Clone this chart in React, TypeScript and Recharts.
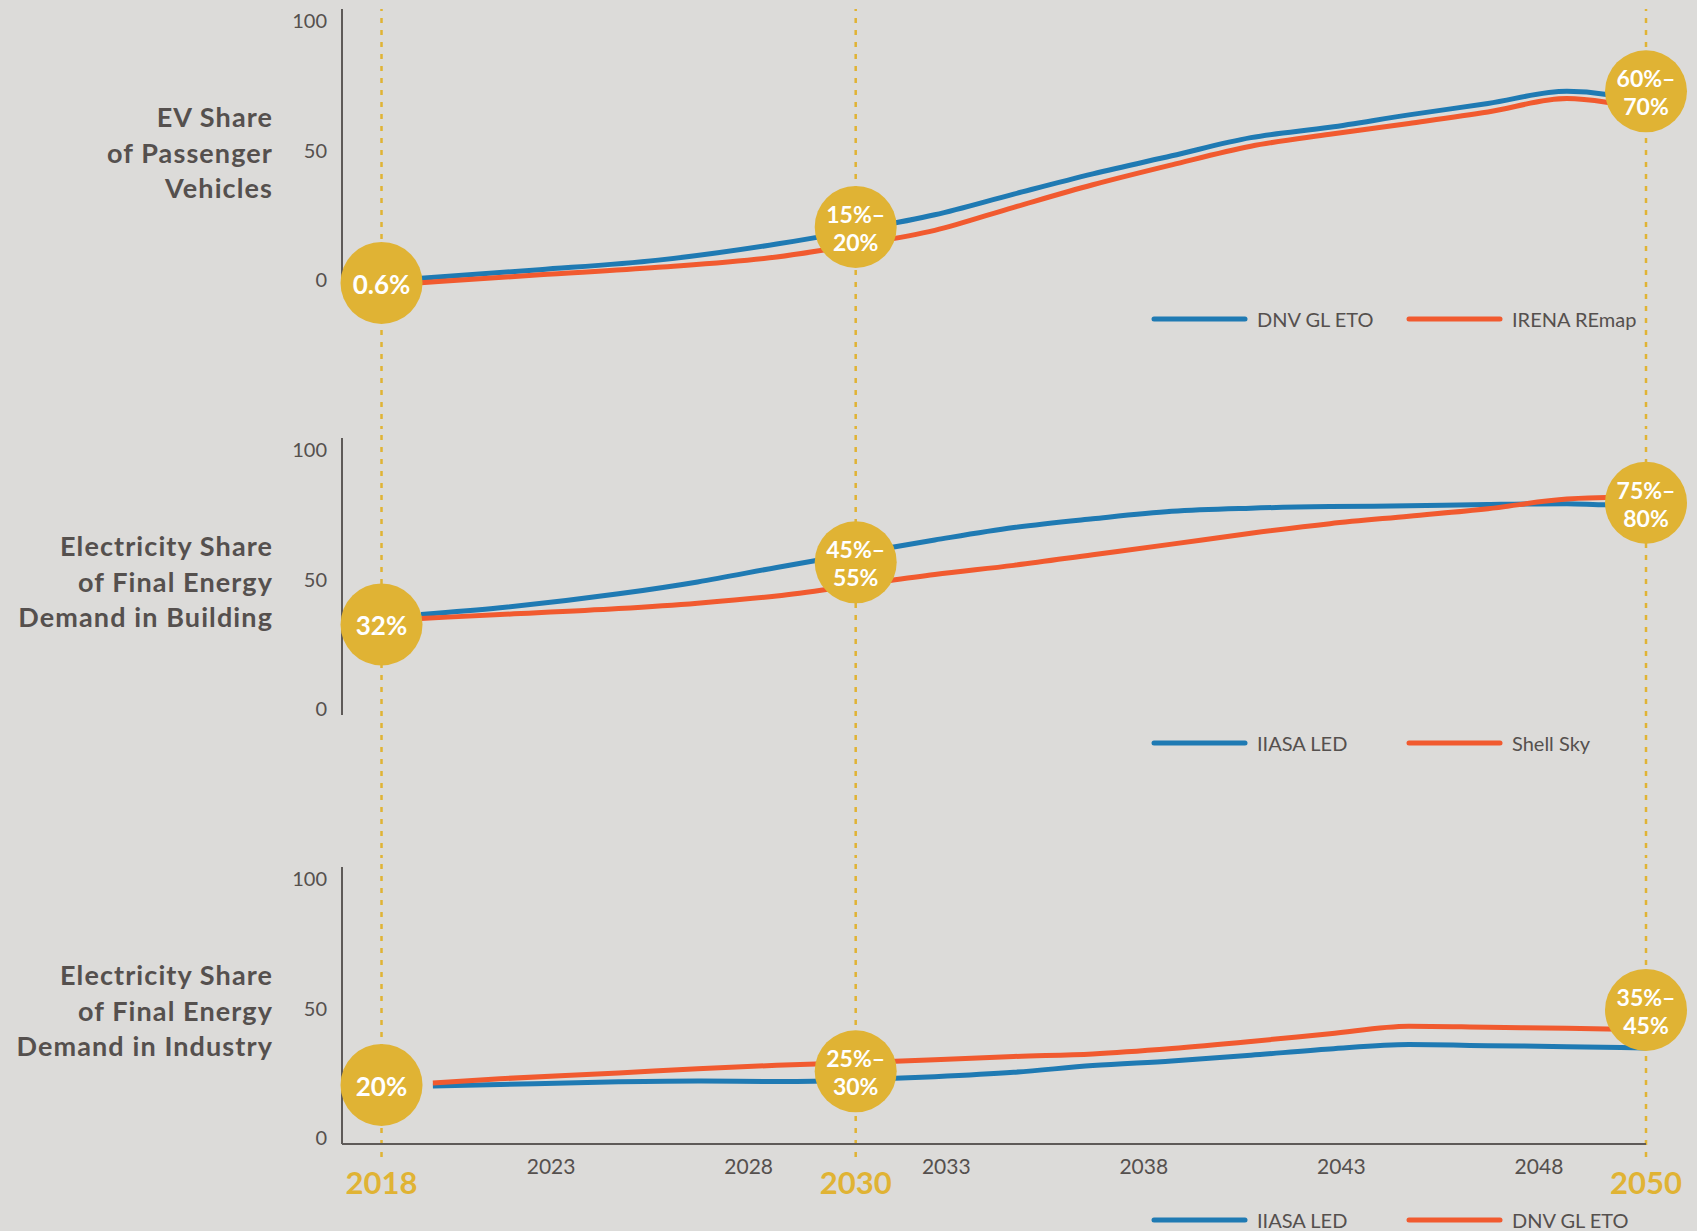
import React from 'react';
import { LineChart, Line, XAxis, YAxis, ReferenceLine, ReferenceDot, Legend } from 'recharts';

const FONT = 'Lato, "Noto Sans", sans-serif';
const BG = '#DCDBD9';
const BLUE = '#1F7AB3';
const ORANGE = '#F15A2F';
const GOLD = '#E0B334';
const INK = '#55504E';
const AXIS = '#5E5A58';

// x axis
const markerYears = [2018, 2030, 2050];
const tickYears = [2023, 2028, 2033, 2038, 2043, 2048];
const yTicks = [0, 50, 100];

// panel 1: EV share of passenger vehicles
const evTitle = ['EV Share', 'of Passenger', 'Vehicles'];
const evYears = [2019, 2022, 2025, 2028, 2030, 2032, 2034, 2036, 2038, 2040, 2042, 2044, 2046, 2048, 2049, 2050];
const evDnv = [3.0, 6.3, 10.0, 16.2, 21.5, 27.5, 35.5, 43.3, 50.3, 57.3, 61.3, 66.1, 70.5, 75.2, 74.0, 70.0];
const evIrena = [1.3, 4.3, 7.2, 11.2, 15.9, 21.5, 30.4, 39.1, 46.8, 54.0, 58.6, 62.8, 67.2, 72.4, 71.0, 68.0];
const evBubbleValues = [1.2, 22.8, 75.2];
const evBubbleText = [['0.6%'], ['15%–', '20%'], ['60%–', '70%']];

// panel 2: electricity share in buildings
const bldTitle = ['Electricity Share', 'of Final Energy', 'Demand in Building'];
const bldYears = [2019, 2021, 2024, 2026, 2028, 2030, 2032, 2034, 2036, 2038, 2040, 2042, 2044, 2046, 2048, 2049, 2050];
const bldIiasa = [38.8, 41.4, 46.8, 51.4, 57.0, 62.4, 67.6, 72.4, 75.8, 78.7, 79.9, 80.5, 80.8, 81.3, 81.6, 81.2, 81.2];
const bldShell = [37.3, 38.8, 41.1, 43.2, 46.0, 50.1, 54.3, 57.8, 61.9, 66.0, 70.2, 73.9, 76.8, 79.7, 83.4, 84.0, 84.0];
const bldBubbleValues = [35.0, 59.0, 82.0];
const bldBubbleText = [['32%'], ['45%–', '55%'], ['75%–', '80%']];

// panel 3: electricity share in industry
const indTitle = ['Electricity Share', 'of Final Energy', 'Demand in Industry'];
const indYears = [2019.3, 2021, 2024, 2026, 2028, 2030, 2032, 2034, 2036, 2038, 2040, 2042, 2044, 2046, 2048, 2050];
const indIiasa = [22.4, 23.0, 24.0, 24.3, 24.1, 24.8, 26.0, 27.7, 30.3, 32.1, 34.3, 36.7, 38.4, 38.0, 37.6, 37.1];
const indDnv = [23.6, 25.2, 27.4, 29.1, 30.4, 31.4, 32.5, 33.8, 34.8, 36.9, 39.6, 42.6, 45.5, 45.1, 44.7, 44.2];
const indBubbleValues = [22.8, 28.1, 51.8];
const indBubbleText = [['20%'], ['25%–', '30%'], ['35%–', '45%']];

const rowsOf = (years: number[], a: number[], b: number[]) =>
  years.map((year, i) => ({ year, a: a[i], b: b[i] }));

function YTick({ x, y, payload }: any) {
  return (
    <text x={x} y={y - 7} textAnchor="end" dominantBaseline="central" fontSize={20} fill={INK} fontFamily={FONT}>
      {payload.value}
    </text>
  );
}

function XTick({ x, y, payload }: any) {
  if (markerYears.includes(payload.value)) {
    return (
      <text x={x} y={y + 38} textAnchor="middle" dominantBaseline="central" fontSize={31} fontWeight={700} fill={GOLD} fontFamily={FONT}>
        {payload.value}
      </text>
    );
  }
  return (
    <text x={x - 28} y={y + 21} textAnchor="middle" dominantBaseline="central" fontSize={21} fill={INK} fontFamily={FONT}>
      {payload.value}
    </text>
  );
}

function PanelTitle({ viewBox, lines }: any) {
  const vb = viewBox || { x: 0, y: 9, width: 342, height: 277 };
  const rx = vb.x + vb.width - 69;
  const cy = vb.y + vb.height / 2 + 4.5;
  return (
    <text textAnchor="end" fontSize={27} fontWeight={700} fill={INK} fontFamily={FONT} letterSpacing={1.1}>
      {lines.map((l: string, i: number) => (
        <tspan key={l} x={rx} y={cy + (i - 1) * 35.5} dominantBaseline="central">
          {l}
        </tspan>
      ))}
    </text>
  );
}

function Bubble({ cx, cy, lines }: any) {
  const two = lines.length > 1;
  return (
    <g>
      <circle cx={cx} cy={cy} r={41} fill={GOLD} />
      {lines.map((l: string, i: number) => (
        <text
          key={l}
          x={cx}
          y={two ? cy + (i === 0 ? -13 : 15) : cy + 1}
          textAnchor="middle"
          dominantBaseline="central"
          fontSize={two ? 23 : 26}
          fontWeight={700}
          fill="#fff"
          fontFamily={FONT}
        >
          {l}
        </text>
      ))}
    </g>
  );
}

function LegendBox({ payload }: any) {
  const lefts = [1151, 1406];
  const items = [...(payload || [])].sort((p: any, q: any) => String(p.dataKey).localeCompare(String(q.dataKey)));
  return (
    <div style={{ position: 'relative', width: 1697, height: 30 }}>
      {items.map((p: any, i: number) => (
        <div
          key={p.value}
          style={{ position: 'absolute', left: lefts[i], top: 0, height: 30, display: 'flex', alignItems: 'center' }}
        >
          <svg width={97} height={8}>
            <line x1={3} y1={4} x2={94} y2={4} stroke={p.color} strokeWidth={5} strokeLinecap="round" />
          </svg>
          <span style={{ marginLeft: 9, fontSize: 20, color: INK, fontFamily: FONT, whiteSpace: 'nowrap' }}>{p.value}</span>
        </div>
      ))}
    </div>
  );
}

interface PanelProps {
  title: string[];
  rows: { year: number; a: number; b: number }[];
  names: [string, string];
  bubbleValues: number[];
  bubbleText: string[][];
  height: number;
  bottom: number;
  lineTop: number;
  lineBottom: number;
  legendTop: number;
  showYears?: boolean;
}

function Panel({ title, rows, names, bubbleValues, bubbleText, height, bottom, lineTop, lineBottom, legendTop, showYears }: PanelProps) {
  return (
    <LineChart width={1697} height={height} data={rows} margin={{ top: 9, right: 51, bottom, left: 0 }}>
      <XAxis
        type="number"
        dataKey="year"
        domain={[2017, 2050]}
        allowDataOverflow
        ticks={showYears ? [...markerYears, ...tickYears].sort((p, q) => p - q) : []}
        interval={0}
        tick={showYears ? <XTick /> : false}
        tickLine={false}
        tickSize={0}
        tickMargin={0}
        height={showYears ? 60 : 0}
        axisLine={{ stroke: AXIS, strokeWidth: 2 }}
      />
      <YAxis
        type="number"
        domain={[0, 107]}
        allowDataOverflow
        ticks={yTicks}
        width={342}
        tickLine={false}
        tickSize={0}
        tickMargin={15}
        tick={<YTick />}
        axisLine={{ stroke: AXIS, strokeWidth: 2 }}
        label={<PanelTitle lines={title} />}
      />
      {markerYears.map((yr) => (
        <ReferenceLine
          key={yr}
          segment={[{ x: yr, y: lineBottom }, { x: yr, y: lineTop }]}
          stroke={GOLD}
          strokeWidth={2.5}
          strokeDasharray="5 7"
          ifOverflow="visible"
        />
      ))}
      <Line type="monotone" dataKey="a" name={names[0]} stroke={BLUE} strokeWidth={5} dot={false} isAnimationActive={false} />
      <Line type="monotone" dataKey="b" name={names[1]} stroke={ORANGE} strokeWidth={5} dot={false} isAnimationActive={false} />
      {markerYears.map((yr, i) => (
        <ReferenceDot
          key={yr}
          x={yr}
          y={bubbleValues[i]}
          r={41}
          ifOverflow="visible"
          shape={(p: any) => <Bubble {...p} lines={bubbleText[i]} />}
        />
      ))}
      <Legend
        layout="vertical"
        align="center"
        verticalAlign="middle"
        wrapperStyle={{ left: 0, top: legendTop - 15, width: 1697, height: 30 }}
        content={<LegendBox />}
      />
    </LineChart>
  );
}

export default function App() {
  return (
    <div style={{ position: 'absolute', left: 0, top: 0, width: 1697, height: 1231, background: BG, fontFamily: FONT, overflow: 'hidden' }}>
      <Panel
        title={evTitle}
        rows={rowsOf(evYears, evDnv, evIrena)}
        names={['DNV GL ETO', 'IRENA REmap']}
        bubbleValues={evBubbleValues}
        bubbleText={evBubbleText}
        height={429}
        bottom={143}
        lineTop={107}
        lineBottom={-56}
        legendTop={319}
      />
      <Panel
        title={bldTitle}
        rows={rowsOf(bldYears, bldIiasa, bldShell)}
        names={['IIASA LED', 'Shell Sky']}
        bubbleValues={bldBubbleValues}
        bubbleText={bldBubbleText}
        height={429}
        bottom={143}
        lineTop={111}
        lineBottom={-56}
        legendTop={314}
      />
      <Panel
        title={indTitle}
        rows={rowsOf(indYears, indIiasa, indDnv)}
        names={['IIASA LED', 'DNV GL ETO']}
        bubbleValues={indBubbleValues}
        bubbleText={indBubbleText}
        height={373}
        bottom={27}
        lineTop={111}
        lineBottom={-5}
        legendTop={362}
        showYears
      />
    </div>
  );
}
